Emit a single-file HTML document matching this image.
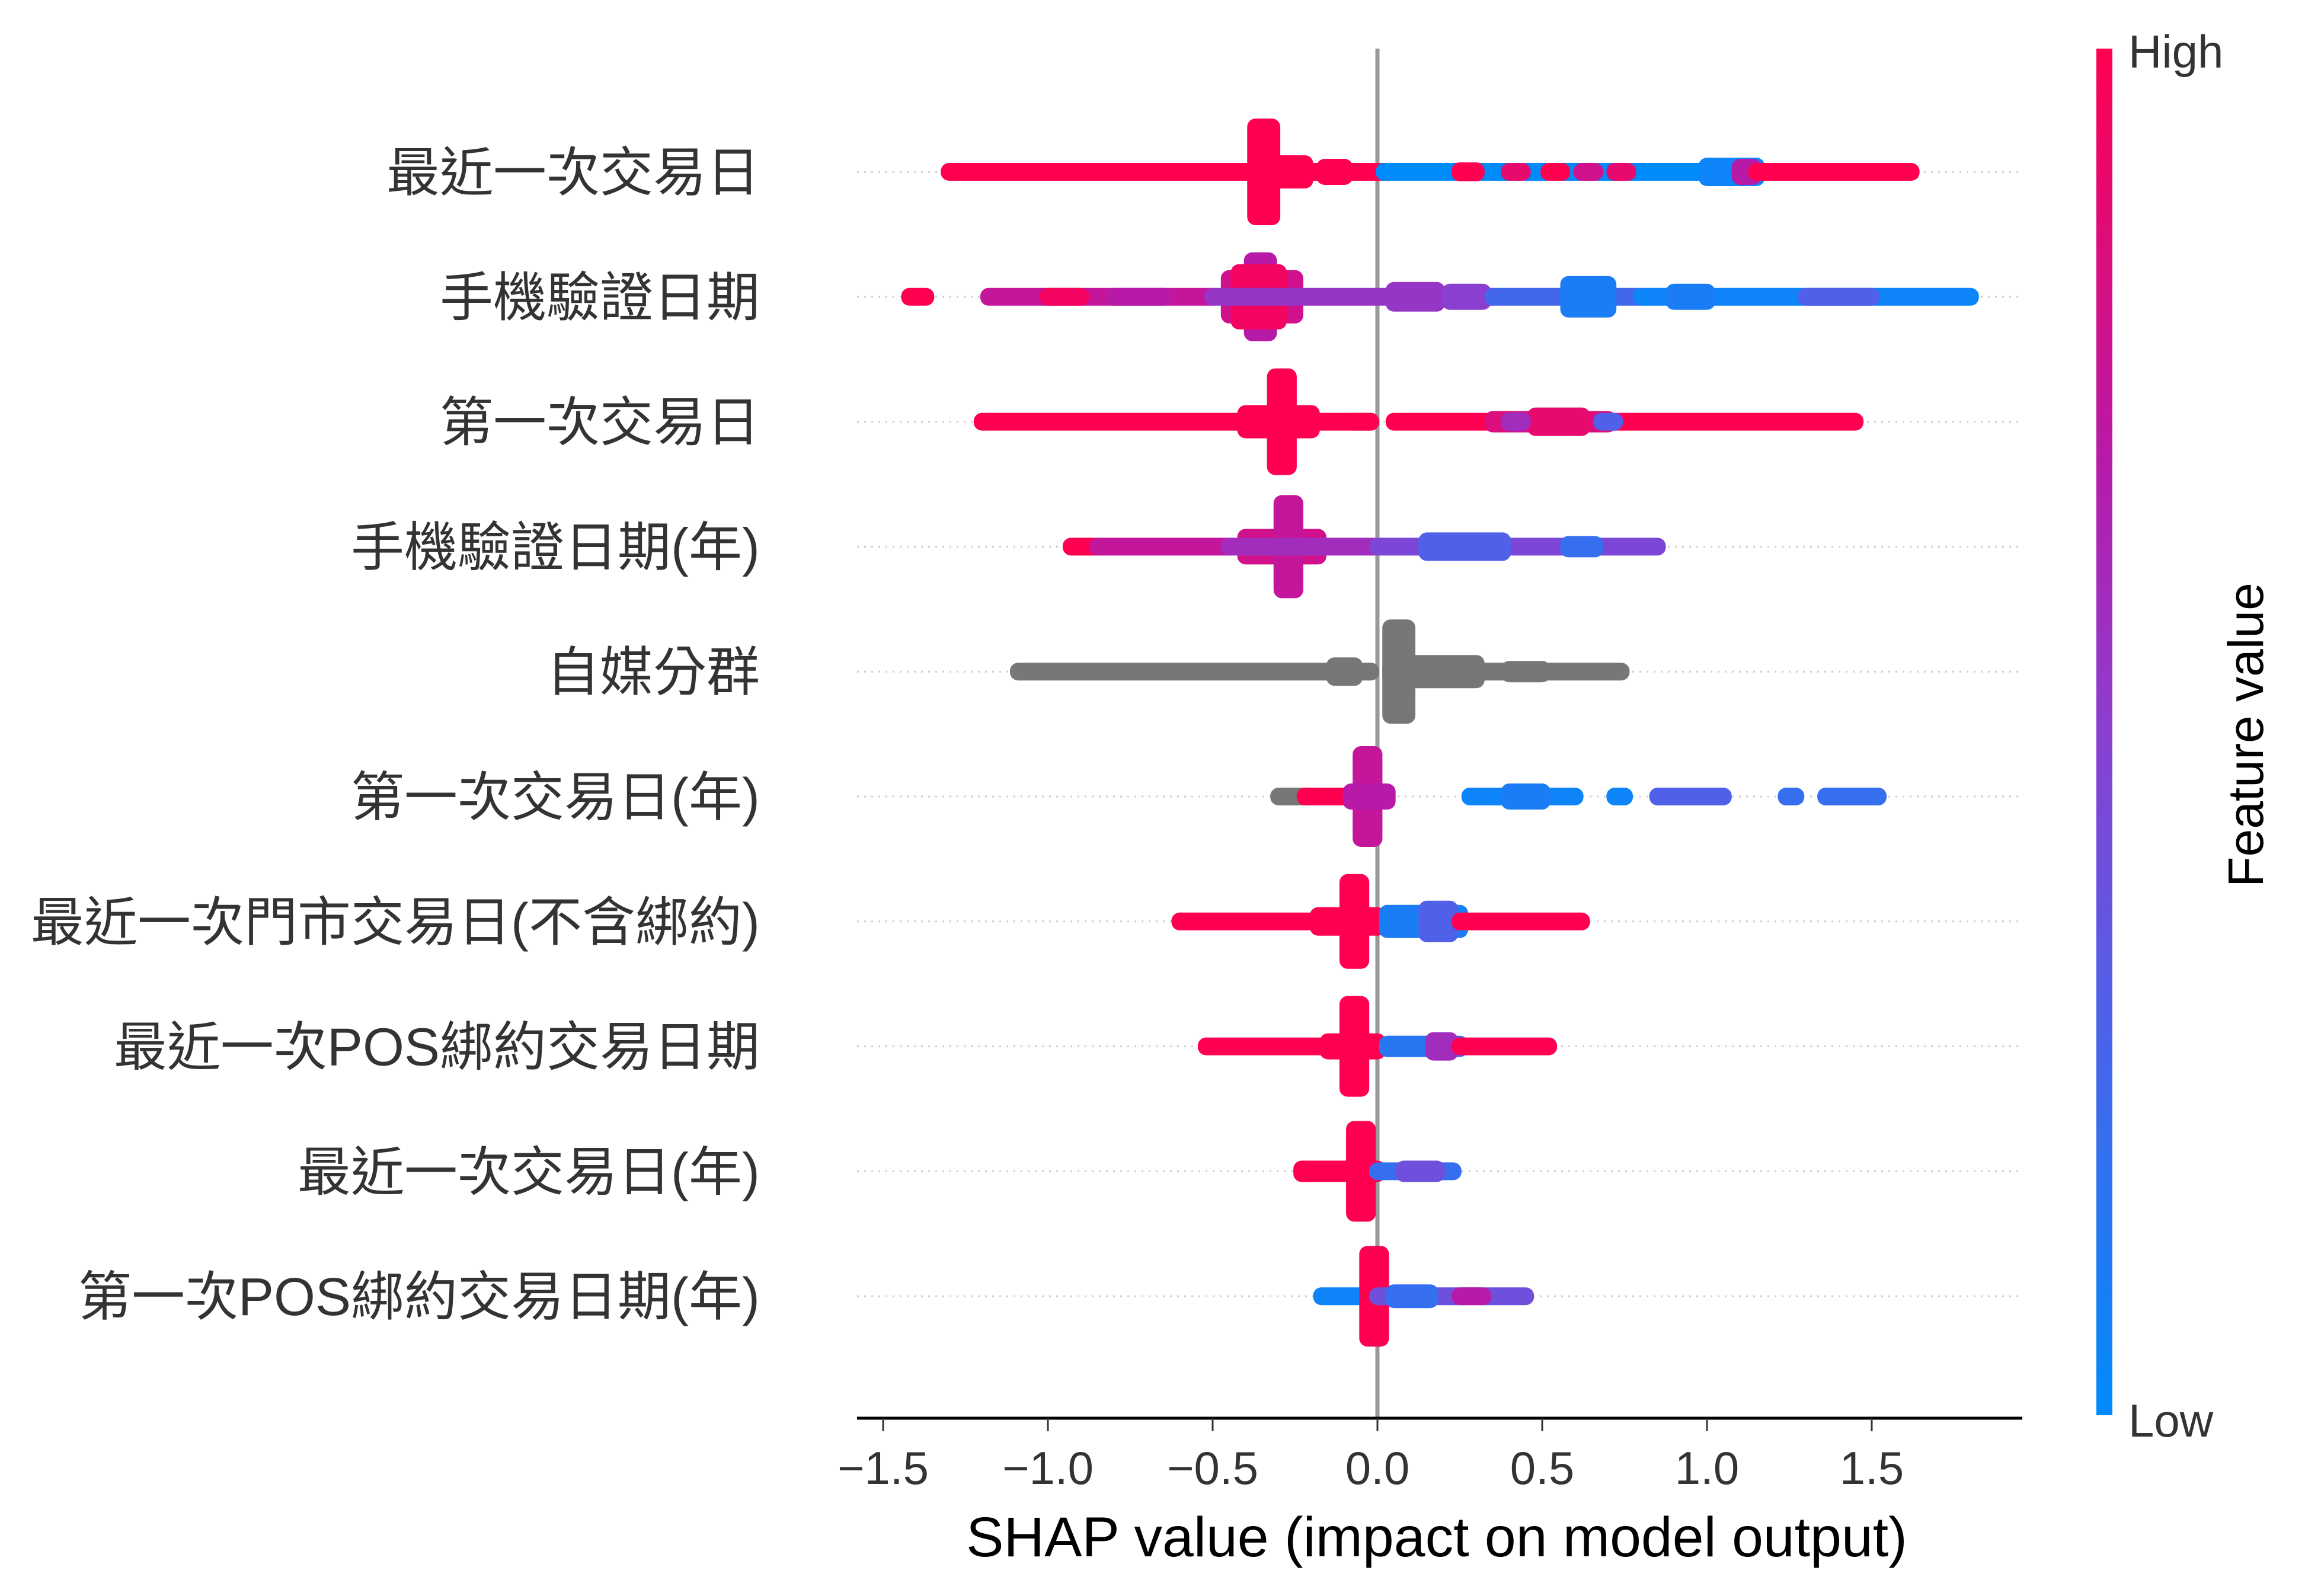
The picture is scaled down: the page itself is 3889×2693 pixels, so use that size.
<!DOCTYPE html>
<html><head><meta charset="utf-8">
<style>
html,body{margin:0;padding:0;background:#fff;}
svg{display:block;}
text{font-family:"Liberation Sans","Noto Sans CJK TC",sans-serif;}
</style></head>
<body>
<svg id="chart" width="3889" height="2693" viewBox="0 0 3889 2693" xmlns="http://www.w3.org/2000/svg">
<defs>
<linearGradient id="cbar" x1="0" y1="1" x2="0" y2="0">
<stop offset="0" stop-color="#008bfb"/>
<stop offset="0.3" stop-color="#5060e8"/>
<stop offset="0.5" stop-color="#8b3fd0"/>
<stop offset="0.7" stop-color="#b81aa8"/>
<stop offset="1" stop-color="#ff0051"/>
</linearGradient>
</defs>
<g id="grid"></g>
<g id="marks"></g>
<g id="axes"></g>
</svg>
<script>
// ---- data ----
const features = ["最近一次交易日","手機驗證日期","第一次交易日","手機驗證日期(年)","自媒分群","第一次交易日(年)","最近一次門市交易日(不含綁約)","最近一次POS綁約交易日期","最近一次交易日(年)","第一次POS綁約交易日期(年)"];
const xTicks = [-1.5,-1.0,-0.5,0.0,0.5,1.0,1.5];
const xTickLabels = ["\u22121.5","\u22121.0","\u22120.5","0.0","0.5","1.0","1.5"];
// segments: [row, shapStart, shapEnd, halfHeightPx, featureValue(0..1, -1 = gray)]
const segments = [
 [0,-1.30,0.02,15,1],[0,-0.37,-0.32,90,1],[0,-0.31,-0.22,28,1],[0,-0.16,-0.10,22,1],
 [0,0.02,1.10,15,0.0],[0,0.25,0.30,16,1],[0,0.40,0.44,15,0.9],[0,0.52,0.56,15,1],[0,0.62,0.66,15,0.8],[0,0.72,0.76,15,0.9],
 [0,1.00,1.15,24,0.05],[0,1.10,1.14,22,0.7],[0,1.15,1.62,15,1],
 [1,-1.42,-1.37,15,1],[1,-1.18,-0.50,15,0.75],[1,-1.0,-0.9,15,0.95],[1,-0.8,-0.65,15,0.7],
 [1,-0.45,-0.25,45,0.8],[1,-0.38,-0.33,75,0.7],[1,-0.42,-0.30,55,0.95],
 [1,-0.50,0.35,15,0.55],[1,0.05,0.18,25,0.55],[1,0.22,0.32,22,0.5],
 [1,0.35,0.80,15,0.25],[1,0.58,0.70,35,0.1],[1,0.80,1.80,15,0.05],[1,0.90,1.00,22,0.1],[1,1.3,1.5,15,0.3],
 [2,-1.20,-0.02,15,1],[2,-0.40,-0.20,28,1],[2,-0.31,-0.27,90,1],[2,-0.08,-0.02,15,1],
 [2,0.05,1.45,15,1],[2,0.35,0.70,18,0.85],[2,0.48,0.62,24,0.9],[2,0.40,0.44,16,0.6],[2,0.68,0.72,15,0.3],
 [3,-0.93,-0.85,15,1],[3,-0.85,-0.45,15,0.75],[3,-0.40,-0.18,30,0.8],[3,-0.29,-0.25,87,0.75],
 [3,-0.45,0.0,15,0.6],[3,0.0,0.85,15,0.45],[3,0.15,0.38,24,0.3],[3,0.58,0.66,18,0.2],
 [4,-1.09,-0.02,15,-1],[4,-0.13,-0.07,24,-1],[4,0.04,0.09,88,-1],[4,0.04,0.30,28,-1],[4,0.04,0.74,15,-1],[4,0.40,0.50,18,-1],
 [5,-0.30,-0.22,15,-1],[5,-0.22,-0.02,15,1],[5,-0.05,-0.01,85,0.75],[5,-0.08,0.03,22,0.7],
 [5,0.28,0.60,15,0.05],[5,0.40,0.50,22,0.1],[5,0.72,0.75,15,0.05],[5,0.85,1.05,15,0.3],[5,1.24,1.27,15,0.2],[5,1.36,1.52,15,0.2],
 [6,-0.60,0.0,15,1],[6,-0.09,-0.05,80,1],[6,-0.18,0.0,24,1],[6,0.03,0.25,28,0.1],[6,0.15,0.22,35,0.3],[6,0.25,0.62,15,1],
 [7,-0.52,0.0,15,1],[7,-0.09,-0.05,85,1],[7,-0.15,0.0,22,1],[7,0.03,0.25,18,0.15],[7,0.17,0.22,24,0.6],[7,0.25,0.52,15,1],
 [8,-0.23,0.0,18,1],[8,-0.07,-0.03,85,1],[8,0.0,0.23,15,0.2],[8,0.08,0.18,18,0.4],
 [9,-0.17,0.0,15,0.05],[9,-0.03,0.01,85,1],[9,0.0,0.45,15,0.4],[9,0.05,0.16,20,0.2],[9,0.25,0.32,15,0.7]
];
// ---- layout ----
const NS="http://www.w3.org/2000/svg";
const X0=2324, PX_PER=556;
const xs = v => X0 + v*PX_PER;
const rowY = i => 290 + i*210.8;
const AX_L=1446, AX_R=3412, AX_Y=2393;
function mk(tag, attrs, parent){const e=document.createElementNS(NS,tag);for(const k in attrs)e.setAttribute(k,attrs[k]);parent.appendChild(e);return e;}
const stops=[[0,[0,139,251]],[0.3,[80,96,232]],[0.5,[139,63,208]],[0.7,[184,26,168]],[1,[255,0,81]]];
function col(c){
 if(c<0) return "#777777";
 for(let i=1;i<stops.length;i++){ if(c<=stops[i][0]){const a=stops[i-1],b=stops[i];const t=(c-a[0])/(b[0]-a[0]);
  const r=a[1].map((v,j)=>Math.round(v+(b[1][j]-v)*t));return `rgb(${r[0]},${r[1]},${r[2]})`;}}
 return "rgb(255,0,81)";
}
const grid=document.getElementById('grid'), marks=document.getElementById('marks'), axes=document.getElementById('axes');
features.forEach((f,i)=>{
 const gl=mk('line',{x1:AX_L,x2:AX_R,y1:rowY(i),y2:rowY(i),stroke:'#cccccc','stroke-width':3,'stroke-dasharray':'3 9'},grid);
 
 
 const t=mk('text',{x:1282,y:rowY(i)+32,'text-anchor':'end','font-size':90,fill:'#333'},axes);
 t.textContent=f;
 
 
});
// zero line
const zl=mk('line',{x1:xs(0),x2:xs(0),y1:82,y2:AX_Y,stroke:'#999999','stroke-width':7},grid);


segments.forEach(s=>{
 const [r,a,b,h,c]=s;
 const x0=xs(a)-14, x1=xs(b)+14, y=rowY(r);
 const el=mk('rect',{x:x0,y:y-h,width:x1-x0,height:2*h,rx:14,ry:14,fill:col(c)},marks);
 
 
});
// x axis
const ax=mk('line',{x1:AX_L,x2:AX_R,y1:AX_Y,y2:AX_Y,stroke:'#000','stroke-width':5},axes);


xTicks.forEach((v,i)=>{
 const tk=mk('line',{x1:xs(v),x2:xs(v),y1:AX_Y,y2:AX_Y+22,stroke:'#333','stroke-width':3},axes);
 
 
 const tl=mk('text',{x:xs(v),y:2504,'text-anchor':'middle','font-size':78,fill:'#333'},axes);
 tl.textContent=xTickLabels[i];
 
 
});
const xt=mk('text',{x:2424,y:2626,'text-anchor':'middle','font-size':95,fill:'#000'},axes);
xt.textContent="SHAP value (impact on model output)";


// colorbar
const cb=mk('rect',{x:3537,y:82,width:27,height:2306,fill:'url(#cbar)'},axes);


const hi=mk('text',{x:3591,y:114,'font-size':78,fill:'#333'},axes);
hi.textContent="High";


const lo=mk('text',{x:3591,y:2424,'font-size':78,fill:'#333'},axes);
lo.textContent="Low";


const fv=mk('text',{x:3818,y:1240,'text-anchor':'middle','font-size':84,fill:'#000',transform:'rotate(-90 3818 1240)'},axes);
fv.textContent="Feature value";


</script>
</body></html>
